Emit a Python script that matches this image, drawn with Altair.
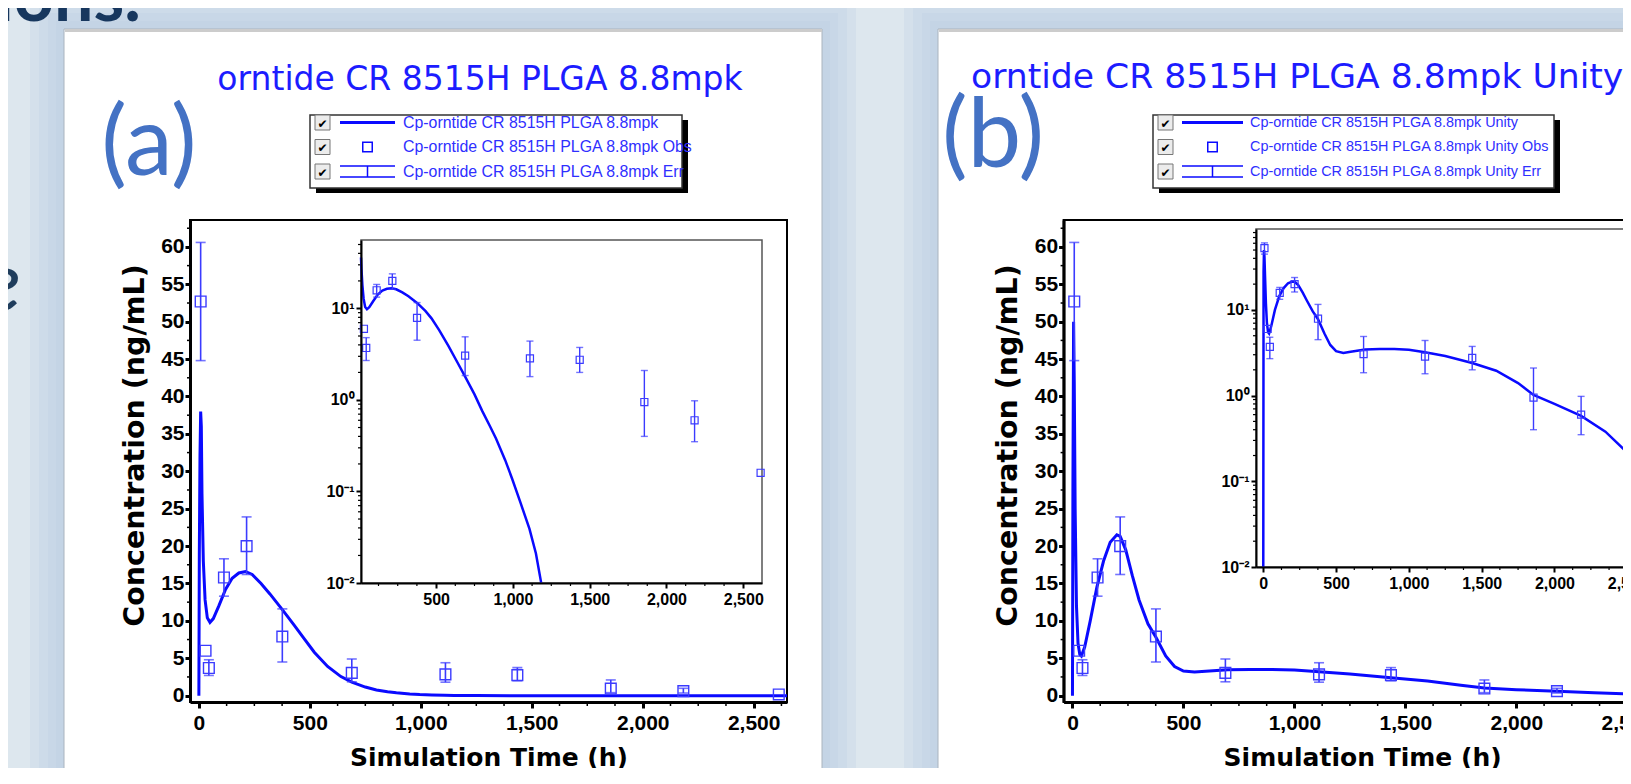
import altair as alt
import pandas as pd

# ---------------------------------------------------------------- data
obs_time = [8, 30, 45, 113, 215, 376, 689, 1111, 1435, 1856, 2183, 2613]
obs_conc = [52.7, 6.0, 3.7, 15.8, 20.0, 7.9, 3.05, 2.85, 2.75, 0.95, 0.6, 0.16]
obs_err_lo = [44.8, None, 2.7, 13.3, 16.2, 4.5, 1.85, 1.8, 2.0, 0.4, 0.35, None]
obs_err_hi = [60.6, None, 4.8, 18.3, 23.9, 11.6, 4.9, 4.4, 3.75, 2.1, 0.98, None]

sim_a_time = [0, 2, 5, 8, 11, 14, 20, 28, 38, 50, 65, 90, 120, 150, 180, 210, 240, 280, 320, 376,
              430, 470, 520, 580, 640, 689, 750, 800, 850, 890, 950, 995, 1050, 1108, 1150, 1184,
              1250, 1400, 1600, 2000, 2650]
sim_a_conc = [0, 19, 32, 38, 36, 27, 18, 12.8, 10.4, 9.8, 10.3, 12.0, 14.2, 15.7, 16.4, 16.6, 16.2,
              15.0, 13.6, 11.5, 9.4, 7.8, 5.8, 3.9, 2.55, 1.8, 1.15, 0.76, 0.52, 0.38, 0.22, 0.138,
              0.075, 0.039, 0.021, 0.0101, 0.004, 0.0008, 0.0001, 0.0, 0.0]

sim_b_time = [0, 2, 5, 8, 12, 18, 25, 33, 40, 55, 80, 110, 140, 170, 200, 215, 240, 270, 300, 340,
              376, 420, 460, 500, 550, 600, 700, 800, 900, 1000, 1111, 1250, 1435, 1600, 1750, 1856,
              2000, 2183, 2350, 2520, 2650]
sim_b_conc = [0, 28, 50, 42, 25, 12, 7, 5.5, 5.3, 6.5, 10, 14.5, 18, 20.5, 21.5, 21.3, 19.5, 16,
              12.8, 9.6, 7.8, 5.3, 3.9, 3.3, 3.15, 3.25, 3.45, 3.5, 3.5, 3.42, 3.2, 2.9, 2.4, 1.95,
              1.4, 1.02, 0.8, 0.58, 0.38, 0.2, 0.13]

main_x_ticks = [0, 500, 1000, 1500, 2000, 2500]
main_y_ticks = [0, 5, 10, 15, 20, 25, 30, 35, 40, 45, 50, 55, 60]
inset_a_x_ticks = [500, 1000, 1500, 2000, 2500]
inset_b_x_ticks = [0, 500, 1000, 1500, 2000, 2500]
inset_y_ticks = [0.01, 0.1, 1, 10]

title_a = "orntide CR 8515H PLGA 8.8mpk"
title_b = "orntide CR 8515H PLGA 8.8mpk Unity"
legend_a = ["Cp-orntide CR 8515H PLGA 8.8mpk",
            "Cp-orntide CR 8515H PLGA 8.8mpk Obs",
            "Cp-orntide CR 8515H PLGA 8.8mpk Err"]
legend_b = ["Cp-orntide CR 8515H PLGA 8.8mpk Unity",
            "Cp-orntide CR 8515H PLGA 8.8mpk Unity Obs",
            "Cp-orntide CR 8515H PLGA 8.8mpk Unity Err"]
x_title = "Simulation Time (h)"
y_title = "Concentration (ng/mL)"

obs = pd.DataFrame({"t": obs_time, "c": obs_conc, "lo": obs_err_lo, "hi": obs_err_hi})
sim_a = pd.DataFrame({"t": sim_a_time, "c": sim_a_conc})
sim_b = pd.DataFrame({"t": sim_b_time, "c": sim_b_conc})

# ---------------------------------------------------------------- layout / style
W, H = 1615, 760


def P(v):
    return v - 8  # page pixel -> chart pixel


BG = "#dde7ee"
GLOW = "#b3c9e2"
BLUE = "#0a0aff"
PT = "#3b3bff"
TXT_BLUE = "#1c1cff"
LEG_BLUE = "#2f2fff"
LABEL_BLUE = "#4472c4"
AX_FONT = "Liberation Sans"
AXT_FONT = "DejaVu Sans"
ONE = pd.DataFrame({"k": [0]})


def rect(x0, x1, y0, y1, **kw):
    return alt.Chart(ONE).mark_rect(**kw).encode(
        x=alt.value(x0), x2=alt.value(x1), y=alt.value(y0), y2=alt.value(y1))


def seg(x0, x1, y0, y1, **kw):
    return alt.Chart(ONE).mark_rule(**kw).encode(
        x=alt.value(x0), x2=alt.value(x1), y=alt.value(y0), y2=alt.value(y1))


def text(x, y, s, **kw):
    return alt.Chart(pd.DataFrame({"s": [s]})).mark_text(**kw).encode(
        x=alt.value(x), y=alt.value(y), text="s:N")


minor_main_x = [v for v in range(125, 2650, 125) if v % 500]
minor_main_y = [v + 2.5 for v in range(0, 61, 5)]


def main_panel(sim, x0):
    x1 = x0 + 597
    y0, y1 = P(702), P(220)
    xs = alt.Scale(domain=[-40, 2650], range=[x0, x1], nice=False, zero=False)
    ys = alt.Scale(domain=[-0.85, 63.6], range=[y0, y1], nice=False, zero=False)
    xax = alt.Axis(orient="bottom", offset=y0 - H, values=main_x_ticks, format=",.0f", grid=False,
                   zindex=1, domainColor="black", domainWidth=3, tickColor="black", tickWidth=3,
                   tickSize=6, labelFont=AX_FONT, labelFontSize=21, labelFontWeight="bold",
                   labelColor="black", labelPadding=4, labelFlush=False, labelOverlap=False,
                   title=x_title, titleFont=AXT_FONT, titleFontSize=25, titleFontWeight="bold",
                   titleColor="black", titleY=63, titleBaseline="alphabetic")
    yax = alt.Axis(orient="left", offset=-x0, values=main_y_ticks, grid=False, zindex=1,
                   domainColor="black", domainWidth=3, tickColor="black", tickWidth=3, tickSize=5,
                   labelFont=AX_FONT, labelFontSize=21, labelFontWeight="bold", labelColor="black",
                   labelPadding=1, labelFlush=False, labelOverlap=False,
                   title=y_title, titleFont=AXT_FONT, titleFontSize=28.5, titleFontWeight="bold",
                   titleColor="black", titleX=-56, titleY=(y0 + y1) / 2 - 16, titleAngle=270,
                   titleAlign="center", titleBaseline="middle")

    def X(f):
        return alt.X(f, scale=xs, axis=xax)

    def Y(f):
        return alt.Y(f, scale=ys, axis=yax)

    frame = rect(x0, x1, y1, y0, fill="white", stroke="black", strokeWidth=2)
    mx = alt.Chart(pd.DataFrame({"t": minor_main_x})).mark_rule(color="black", strokeWidth=1.5).encode(
        x=X("t:Q"), y=alt.value(y0), y2=alt.value(y0 + 4))
    my = alt.Chart(pd.DataFrame({"c": minor_main_y})).mark_rule(color="black", strokeWidth=1.5).encode(
        y=Y("c:Q"), x=alt.value(x0 - 3), x2=alt.value(x0))
    line = alt.Chart(sim).mark_line(color=BLUE, strokeWidth=3).encode(x=X("t:Q"), y=Y("c:Q"))
    errs = alt.Chart(obs).transform_filter("isValid(datum.lo)")
    bars = errs.mark_rule(color=PT, strokeWidth=1.6).encode(x=X("t:Q"), y=Y("lo:Q"), y2="hi:Q")
    cap_lo = errs.mark_tick(color=PT, orient="horizontal", size=10, thickness=1.6).encode(
        x=X("t:Q"), y=Y("lo:Q"))
    cap_hi = errs.mark_tick(color=PT, orient="horizontal", size=10, thickness=1.6).encode(
        x=X("t:Q"), y=Y("hi:Q"))
    pts = alt.Chart(obs).mark_point(shape="square", size=115, filled=False, color=PT,
                                    strokeWidth=1.4, opacity=1).encode(x=X("t:Q"), y=Y("c:Q"))
    return alt.layer(frame, mx, my, line, bars, cap_lo, cap_hi, pts)


def inset(sim, xdom, x0, x1, ymax, y0, y1, xticks, clamp):
    xs = alt.Scale(domain=xdom, range=[x0, x1], nice=False, zero=False)
    ys = alt.Scale(type="log", domain=[0.01, ymax], range=[y0, y1], nice=False)
    xax = alt.Axis(orient="bottom", offset=y0 - H, values=xticks, format=",.0f", grid=False, zindex=1,
                   domainColor="black", domainWidth=2, tickColor="black", tickWidth=2, tickSize=5,
                   labelFont=AX_FONT, labelFontSize=16, labelFontWeight="bold", labelColor="black",
                   labelPadding=3, labelFlush=False, labelOverlap=False, title="")
    yax = alt.Axis(orient="left", offset=-x0, values=inset_y_ticks, grid=False, zindex=1,
                   domainColor="black", domainWidth=2, tickColor="black", tickWidth=2, tickSize=5,
                   labelFont=AX_FONT, labelFontSize=16, labelFontWeight="bold", labelColor="black",
                   labelPadding=2, labelFlush=False, labelOverlap=False, title="",
                   labelExpr="datum.value >= 10 ? '10\u00b9' : datum.value >= 1 ? '10\u2070' : "
                             "datum.value >= 0.1 ? '10\u207b\u00b9' : '10\u207b\u00b2'")

    def X(f):
        return alt.X(f, scale=xs, axis=xax)

    def Y(f):
        return alt.Y(f, scale=ys, axis=yax)

    minor_x = [v for v in range(125, 2650, 125) if v % 500 and xdom[0] < v < xdom[1]]
    minor_y = [k * d for d in [0.01, 0.1, 1, 10] for k in range(2, 10) if k * d < ymax]
    frame = rect(x0, x1, y1, y0, fill="white", stroke="#555555", strokeWidth=1.5)
    mx = alt.Chart(pd.DataFrame({"t": minor_x})).mark_rule(color="black", strokeWidth=1.2).encode(
        x=X("t:Q"), y=alt.value(y0), y2=alt.value(y0 + 3))
    my = alt.Chart(pd.DataFrame({"c": minor_y})).mark_rule(color="black", strokeWidth=1.2).encode(
        y=Y("c:Q"), x=alt.value(x0 - 3), x2=alt.value(x0))
    base = alt.Chart(sim).transform_filter(alt.datum.t >= xdom[0])
    if clamp:
        base = base.transform_calculate(c="max(datum.c, 0.0101)")
    else:
        base = base.transform_filter(alt.datum.c >= 0.0099)
    line = base.mark_line(color=BLUE, strokeWidth=2.5).encode(x=X("t:Q"), y=Y("c:Q"))
    o = alt.Chart(obs).transform_filter(alt.datum.t >= xdom[0])
    errs = o.transform_filter("isValid(datum.lo)")
    bars = errs.mark_rule(color=PT, strokeWidth=1.4).encode(x=X("t:Q"), y=Y("lo:Q"), y2="hi:Q")
    cap_lo = errs.mark_tick(color=PT, orient="horizontal", size=7, thickness=1.4).encode(
        x=X("t:Q"), y=Y("lo:Q"))
    cap_hi = errs.mark_tick(color=PT, orient="horizontal", size=7, thickness=1.4).encode(
        x=X("t:Q"), y=Y("hi:Q"))
    pts = o.mark_point(shape="square", size=50, filled=False, color=PT, strokeWidth=1.2,
                       opacity=1).encode(x=X("t:Q"), y=Y("c:Q"))
    return alt.layer(frame, mx, my, line, bars, cap_lo, cap_hi, pts)


def legend(bx0, bx1, by0, by1, rows, cx, sx0, sx1, tx, labels, fsize):
    parts = [rect(bx0 + 6, bx1 + 6, by0 + 5, by1 + 5, fill="black"),
             rect(bx0, bx1, by0, by1, fill="white", stroke="#333333", strokeWidth=1.5)]
    mid = (sx0 + sx1) / 2
    for i, ry in enumerate(rows):
        parts.append(rect(cx, cx + 15, ry - 7.5, ry + 7.5, fill="#ececec", stroke="#777777",
                          strokeWidth=1))
        parts.append(text(cx + 7.5, ry + 1, "\u2714", font="DejaVu Sans", fontSize=12,
                          color="black", align="center", baseline="middle"))
        parts.append(text(tx, ry, labels[i], font=AX_FONT, fontSize=fsize, color=LEG_BLUE,
                          align="left", baseline="middle"))
    parts.append(seg(sx0, sx1, rows[0], rows[0], color=BLUE, strokeWidth=3))
    parts.append(alt.Chart(ONE).mark_point(shape="square", size=90, filled=False, color=BLUE,
                                           strokeWidth=1.5, opacity=1).encode(
        x=alt.value(mid), y=alt.value(rows[1])))
    parts.append(seg(sx0, sx1, rows[2] - 5.5, rows[2] - 5.5, color=BLUE, strokeWidth=1.5))
    parts.append(seg(sx0, sx1, rows[2] + 5.5, rows[2] + 5.5, color=BLUE, strokeWidth=1.5))
    parts.append(seg(mid, mid, rows[2] - 5.5, rows[2] + 5.5, color=BLUE, strokeWidth=1.5))
    return parts


# ---------------------------------------------------------------- slide background
layers = [rect(0, W, 0, H, fill=BG)]
panels = [(P(64), P(822)), (P(938), P(1720))]
for (px0, px1) in panels:
    for e in [34, 25, 16, 8]:
        layers.append(rect(px0 - e, px1 + e, P(29) - e, H + 40, fill=GLOW, opacity=0.2))
for (px0, px1) in panels:
    layers.append(rect(px0, px1, P(29), H + 20, fill="white", stroke="#aab4be", strokeWidth=1))
    layers.append(rect(px0 + 1, px1, P(29), P(32), fill="#cccccc"))

layers.append(text(-12, 13, "ions.", font="Lato", fontSize=70, fontWeight="bold",
                   color="#17375e", align="left", baseline="alphabetic"))
layers.append(text(-27, 303, "e", font="Lato", fontSize=84, fontStyle="italic",
                   color="#1f3d5c", align="left", baseline="alphabetic"))

# ---------------------------------------------------------------- panels
layers.append(main_panel(sim_a, P(190)))
layers.append(inset(sim_a, [11, 2622], P(361), P(762), 56, P(583), P(240), inset_a_x_ticks, False))
layers.append(main_panel(sim_b, P(1063.6)))
layers.append(inset(sim_b, [-50, 2650], P(1256), P(1256) + 393.1, 88, P(567), P(229),
                    inset_b_x_ticks, True))

layers += legend(P(310), P(682), P(115), P(188), [P(122.5), P(147), P(171.5)],
                 P(315), P(340), P(395), P(403), legend_a, 15.9)
layers += legend(P(1153), P(1554), P(115), P(188), [P(122.5), P(147), P(171.5)],
                 P(1158), P(1182), P(1243), P(1250), legend_b, 14.4)

layers.append(text(P(480), P(90), title_a, font="DejaVu Sans", fontSize=33, color=TXT_BLUE,
                   align="center", baseline="alphabetic"))
layers.append(text(P(971), P(88), title_b, font="DejaVu Sans", fontSize=34.6, color=TXT_BLUE,
                   align="left", baseline="alphabetic"))
layers.append(text(P(149), P(146), "(a)", font="Lato", fontSize=96, color=LABEL_BLUE,
                   align="center", baseline="middle"))
layers.append(text(P(993), P(138), "(b)", font="Lato", fontSize=96, color=LABEL_BLUE,
                   align="center", baseline="middle"))

chart = alt.layer(*layers).resolve_scale(
    x="independent", y="independent"
).resolve_axis(
    x="independent", y="independent"
).properties(
    width=W, height=H, padding=0, background=BG,
    autosize=alt.AutoSizeParams(type="none"),
).configure_view(strokeWidth=0)

chart.save("out.html", embed_options={"renderer": "svg", "actions": False})
